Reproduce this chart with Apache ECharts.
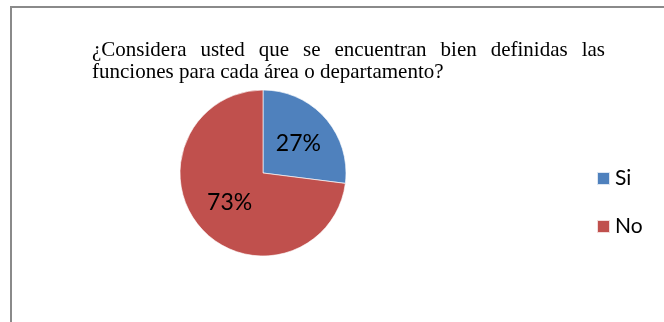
<!DOCTYPE html>
<html>
<head>
<meta charset="utf-8">
<style>
html,body{margin:0;padding:0;background:#fff;}
#chart{width:664px;height:322px;}
</style>
<script src="https://cdn.jsdelivr.net/npm/echarts@6/dist/echarts.min.js"></script>
</head>
<body>
<div id="chart"></div>
<script>
var categories = ['Si', 'No'];
var values = [27, 73];
var colors = ['#4F81BD', '#C0504D'];
var titleLine1 = ['¿Considera', 'usted', 'que', 'se', 'encuentran', 'bien', 'definidas', 'las'];
var titleLine2 = 'funciones para cada área o departamento?';

var titleFont = "21px 'Liberation Serif'";
var cv = document.createElement('canvas').getContext('2d');
cv.font = titleFont;
var lineLeft = 92, lineRight = 605;
var wordsW = titleLine1.map(function (w) { return cv.measureText(w).width; });
var total = wordsW.reduce(function (a, b) { return a + b; }, 0);
var gap = (lineRight - lineLeft - total) / (titleLine1.length - 1);
var graphics = [];
var x = lineLeft;
titleLine1.forEach(function (w, i) {
  graphics.push({
    type: 'text', x: x, y: 50,
    style: { text: w, font: titleFont, fill: '#000', verticalAlign: 'middle' }
  });
  x += wordsW[i] + gap;
});
graphics.push({
  type: 'text', x: lineLeft, y: 72,
  style: { text: titleLine2, font: titleFont, fill: '#000', verticalAlign: 'middle' }
});
graphics.push({
  type: 'rect', shape: { x: 11, y: 7, width: 800, height: 500 },
  style: { fill: 'none', stroke: '#8a8a8a', lineWidth: 2 }, z: -1
});

var labelPads = [[11, 0, 0, 4], [2, 0, 0, 0]];

var chart = echarts.init(document.getElementById('chart'), null, { renderer: 'canvas' });
chart.setOption({
  animation: false,
  backgroundColor: '#fff',
  color: colors,
  graphic: graphics,
  legend: {
    orient: 'vertical',
    left: 596,
    top: 168,
    padding: 0,
    itemWidth: 13,
    itemHeight: 13,
    itemGap: 27,
    icon: 'rect',
    data: categories,
    textStyle: { fontFamily: 'Lato', fontSize: 21, lineHeight: 21, color: '#000' }
  },
  series: [{
    type: 'pie',
    center: [263, 173],
    radius: 83,
    startAngle: 90,
    clockwise: true,
    data: categories.map(function (c, i) {
      return { name: c, value: values[i], label: { padding: labelPads[i] } };
    }),
    itemStyle: { borderColor: 'rgba(255,255,255,0.8)', borderWidth: 0.8 },
    label: {
      position: 'inner',
      formatter: '{d}%',
      fontFamily: 'Lato',
      fontSize: 23,
      color: '#000'
    },
    labelLine: { show: false },
    emphasis: { disabled: true }
  }]
});
</script>
</body>
</html>
